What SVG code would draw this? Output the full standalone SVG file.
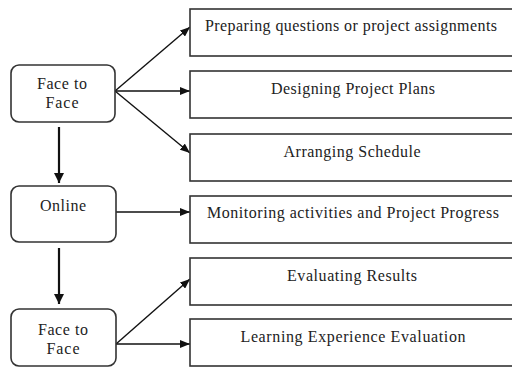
<svg xmlns="http://www.w3.org/2000/svg" width="512" height="368" viewBox="0 0 512 368">
<style>
.box{fill:#fff;stroke:#333;stroke-width:1.6}
.t{font-family:"Liberation Serif","Times New Roman",serif;font-size:16px;fill:#222;text-anchor:middle}
.c{stroke:#111;stroke-width:1.4;fill:none}
.v{stroke:#111;stroke-width:2.2;fill:none}
</style>
<defs>
<marker id="ah" markerWidth="10" markerHeight="8" refX="10" refY="4" orient="auto" markerUnits="userSpaceOnUse">
<path d="M0,0 L10,4 L0,8 Z" fill="#111"/>
</marker>
<marker id="ahv" markerWidth="12" markerHeight="10" refX="10" refY="5" orient="auto" markerUnits="userSpaceOnUse">
<path d="M0,0 L10,5 L0,10 Z" fill="#111"/>
</marker>
</defs>
<rect width="512" height="368" fill="#fff"/>
<g id="connectors">
<line class="c" x1="115" y1="91" x2="190" y2="27" marker-end="url(#ah)"/>
<line class="c" x1="115" y1="91" x2="190" y2="91" marker-end="url(#ah)"/>
<line class="c" x1="115" y1="91" x2="190" y2="153" marker-end="url(#ah)"/>
<line class="v" x1="59" y1="127" x2="59" y2="183" marker-end="url(#ahv)"/>
<line class="c" x1="116" y1="212" x2="190" y2="212" marker-end="url(#ah)"/>
<line class="v" x1="59" y1="248" x2="59" y2="304" marker-end="url(#ahv)"/>
<line class="c" x1="116" y1="344" x2="190" y2="279" marker-end="url(#ah)"/>
<line class="c" x1="116" y1="344" x2="190" y2="344" marker-end="url(#ah)"/>
</g>
<g id="ftf1"><rect class="box" x="11" y="65" width="104" height="57" rx="8"/><text class="t" x="62" y="89" textLength="50">Face to</text><text class="t" x="62" y="108" textLength="33">Face</text></g>
<g id="online"><rect class="box" x="11" y="186" width="105" height="56" rx="8"/><text class="t" x="63" y="211" textLength="46">Online</text></g>
<g id="ftf2"><rect class="box" x="11" y="309" width="105" height="57" rx="8"/><text class="t" x="63" y="335" textLength="50">Face to</text><text class="t" x="63" y="354" textLength="33">Face</text></g>
<g id="b1"><rect class="box" x="190" y="9" width="330" height="47"/><text class="t" x="351" y="31" textLength="292">Preparing questions or project assignments</text></g>
<g id="b2"><rect class="box" x="190" y="71" width="330" height="47"/><text class="t" x="353" y="94" textLength="164">Designing Project Plans</text></g>
<g id="b3"><rect class="box" x="190" y="134" width="330" height="47"/><text class="t" x="352" y="157" textLength="137">Arranging Schedule</text></g>
<g id="b4"><rect class="box" x="190" y="196" width="330" height="47"/><text class="t" x="353" y="218" textLength="292">Monitoring activities and Project Progress</text></g>
<g id="b5"><rect class="box" x="190" y="258" width="330" height="47"/><text class="t" x="352" y="281" textLength="130">Evaluating Results</text></g>
<g id="b6"><rect class="box" x="190" y="319" width="330" height="47"/><text class="t" x="353" y="342" textLength="225">Learning Experience Evaluation</text></g>
</svg>
